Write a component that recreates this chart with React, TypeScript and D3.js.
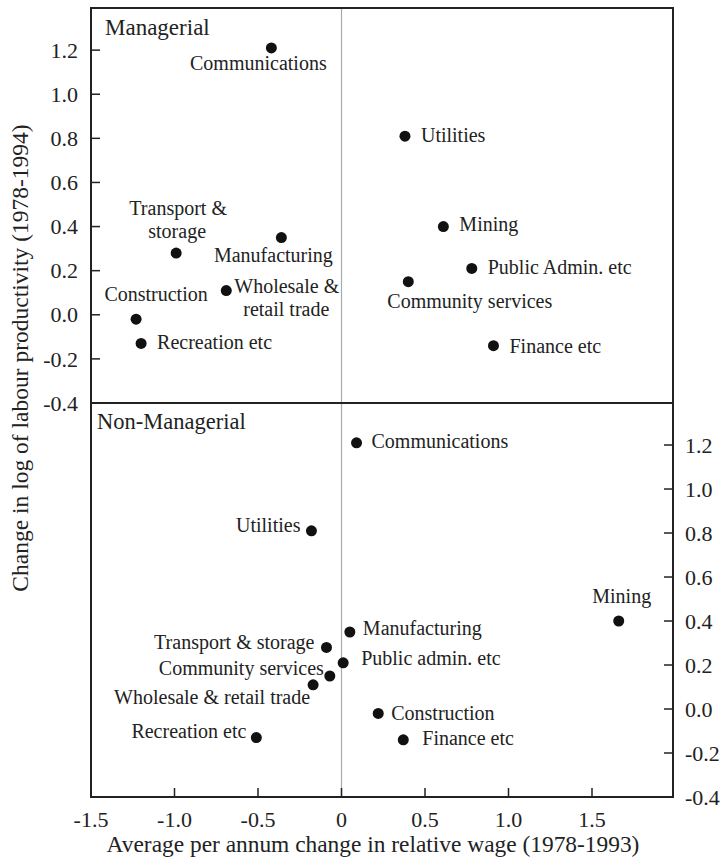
import React from "react";
import * as d3 from "d3";

// ---- Data ----
const managerialNames = [
  "Communications", "Utilities", "Mining", "Public Admin. etc", "Community services",
  "Finance etc", "Transport & storage", "Manufacturing", "Wholesale & retail trade",
  "Construction", "Recreation etc",
];
const managerialWage = [-0.42, 0.38, 0.61, 0.78, 0.40, 0.91, -0.99, -0.36, -0.69, -1.23, -1.20];
const managerialProd = [1.21, 0.81, 0.40, 0.21, 0.15, -0.14, 0.28, 0.35, 0.11, -0.02, -0.13];

const nonManagerialNames = [
  "Communications", "Utilities", "Mining", "Manufacturing", "Transport & storage",
  "Public admin. etc", "Community services", "Wholesale & retail trade", "Recreation etc",
  "Construction", "Finance etc",
];
const nonManagerialWage = [0.09, -0.18, 1.66, 0.05, -0.09, 0.01, -0.07, -0.17, -0.51, 0.22, 0.37];
const nonManagerialProd = [1.21, 0.81, 0.40, 0.35, 0.28, 0.21, 0.15, 0.11, -0.13, -0.02, -0.14];

const xTicks = [-1.5, -1.0, -0.5, 0, 0.5, 1.0, 1.5];
const xTickLabels = ["-1.5", "-1.0", "-0.5", "0", "0.5", "1.0", "1.5"];
const yTicks = [1.2, 1.0, 0.8, 0.6, 0.4, 0.2, 0.0, -0.2, -0.4];
const yTickLabels = ["1.2", "1.0", "0.8", "0.6", "0.4", "0.2", "0.0", "-0.2", "-0.4"];

// ---- Label placement (style, separate from data) ----
type Line = { t: string; dx: number; dy: number; a: "start" | "middle" | "end" };
const managerialLabels: Line[][] = [
  [{ t: "Communications", dx: -13, dy: 22, a: "middle" }],
  [{ t: "Utilities", dx: 16, dy: 6, a: "start" }],
  [{ t: "Mining", dx: 16, dy: 4, a: "start" }],
  [{ t: "Public Admin. etc", dx: 16, dy: 6, a: "start" }],
  [{ t: "Community services", dx: -21, dy: 26, a: "start" }],
  [{ t: "Finance etc", dx: 16, dy: 7, a: "start" }],
  [
    { t: "Transport &", dx: 2, dy: -38, a: "middle" },
    { t: "storage", dx: 1, dy: -15, a: "middle" },
  ],
  [{ t: "Manufacturing", dx: -8, dy: 24, a: "middle" }],
  [
    { t: "Wholesale &", dx: 8, dy: 2, a: "start" },
    { t: "retail trade", dx: 17, dy: 25, a: "start" },
  ],
  [{ t: "Construction", dx: 20, dy: -18, a: "middle" }],
  [{ t: "Recreation etc", dx: 16, dy: 6, a: "start" }],
];
const nonManagerialLabels: Line[][] = [
  [{ t: "Communications", dx: 15, dy: 5, a: "start" }],
  [{ t: "Utilities", dx: -11, dy: 1, a: "end" }],
  [{ t: "Mining", dx: 3, dy: -18, a: "middle" }],
  [{ t: "Manufacturing", dx: 13, dy: 3, a: "start" }],
  [{ t: "Transport & storage", dx: -12, dy: 2, a: "end" }],
  [{ t: "Public admin. etc", dx: 18, dy: 2, a: "start" }],
  [{ t: "Community services", dx: -6, dy: -1, a: "end" }],
  [{ t: "Wholesale & retail trade", dx: -3, dy: 19, a: "end" }],
  [{ t: "Recreation etc", dx: -10, dy: 0, a: "end" }],
  [{ t: "Construction", dx: 13, dy: 7, a: "start" }],
  [{ t: "Finance etc", dx: 19, dy: 5, a: "start" }],
];

const FONT = "'Liberation Serif', 'Times New Roman', serif";
const INK = "#222";

export default function App() {
  const left = 91, right = 674, top = 8, mid = 403, bottom = 797;
  const x = d3.scaleLinear().domain([-1.5, 2.0]).range([left, right + 1.5]);
  const yTop = d3.scaleLinear().domain([-0.4, 1.391]).range([mid, top]);
  const yBot = d3.scaleLinear().domain([-0.4, 1.391]).range([bottom, mid]);
  const rightEdge = 673;

  const renderPoints = (
    names: string[], xs: number[], ys: number[], labels: Line[][], y: d3.ScaleLinear<number, number>
  ) =>
    names.map((n, i) => {
      const cx = x(xs[i]);
      const cy = y(ys[i]);
      return (
        <g key={n}>
          <circle cx={cx} cy={cy} r={5.5} fill="#111" />
          {labels[i].map((l, j) => (
            <text key={j} x={cx + l.dx} y={cy + l.dy} textAnchor={l.a} fontSize={20} fill={INK}>
              {l.t}
            </text>
          ))}
        </g>
      );
    });

  return (
    <svg width={722} height={860} style={{ position: "absolute", left: 0, top: 0, background: "#fff" }}
      fontFamily={FONT}>
      <rect x={0} y={0} width={722} height={860} fill="#fff" />
      {/* zero line */}
      <line x1={x(0)} x2={x(0)} y1={top} y2={bottom} stroke="#aaa" strokeWidth={1.2} />

      {/* frames */}
      <rect x={left} y={top} width={rightEdge - left} height={bottom - top} fill="none" stroke={INK} strokeWidth={2} />
      <line x1={left} x2={rightEdge} y1={mid} y2={mid} stroke={INK} strokeWidth={2} />

      {/* top-panel y axis (left) */}
      {yTicks.map((t, i) => (
        <g key={"yl" + i}>
          <line x1={left} x2={left + 9} y1={yTop(t)} y2={yTop(t)} stroke={INK} strokeWidth={1.5} />
          <text x={left - 13} y={yTop(t)} dy="0.35em" textAnchor="end" fontSize={22} fill={INK}>
            {yTickLabels[i]}
          </text>
        </g>
      ))}

      {/* bottom-panel y axis (right) */}
      {yTicks.map((t, i) => (
        <g key={"yr" + i}>
          <line x1={rightEdge - 9} x2={rightEdge} y1={yBot(t)} y2={yBot(t)} stroke={INK} strokeWidth={1.5} />
          <text x={rightEdge + 12} y={yBot(t)} dy="0.35em" textAnchor="start" fontSize={22} fill={INK}>
            {yTickLabels[i]}
          </text>
        </g>
      ))}

      {/* x axis */}
      {xTicks.map((t, i) => (
        <g key={"x" + i}>
          <line x1={x(t)} x2={x(t)} y1={bottom} y2={bottom - 9} stroke={INK} strokeWidth={1.5} />
          <text x={x(t)} y={827} textAnchor="middle" fontSize={22} fill={INK}>
            {xTickLabels[i]}
          </text>
        </g>
      ))}

      {/* panel titles */}
      <text x={105} y={35} fontSize={23} fill={INK}>Managerial</text>
      <text x={97} y={429} fontSize={22.5} fill={INK}>Non-Managerial</text>

      {/* points */}
      {renderPoints(managerialNames, managerialWage, managerialProd, managerialLabels, yTop)}
      {renderPoints(nonManagerialNames, nonManagerialWage, nonManagerialProd, nonManagerialLabels, yBot)}

      {/* axis titles */}
      <text x={373} y={852} textAnchor="middle" fontSize={23.4} fill={INK}>
        Average per annum change in relative wage (1978-1993)
      </text>
      <text transform={`translate(28, 358) rotate(-90)`} textAnchor="middle" fontSize={23.5} fill={INK}>
        Change in log of labour productivity (1978-1994)
      </text>
    </svg>
  );
}
